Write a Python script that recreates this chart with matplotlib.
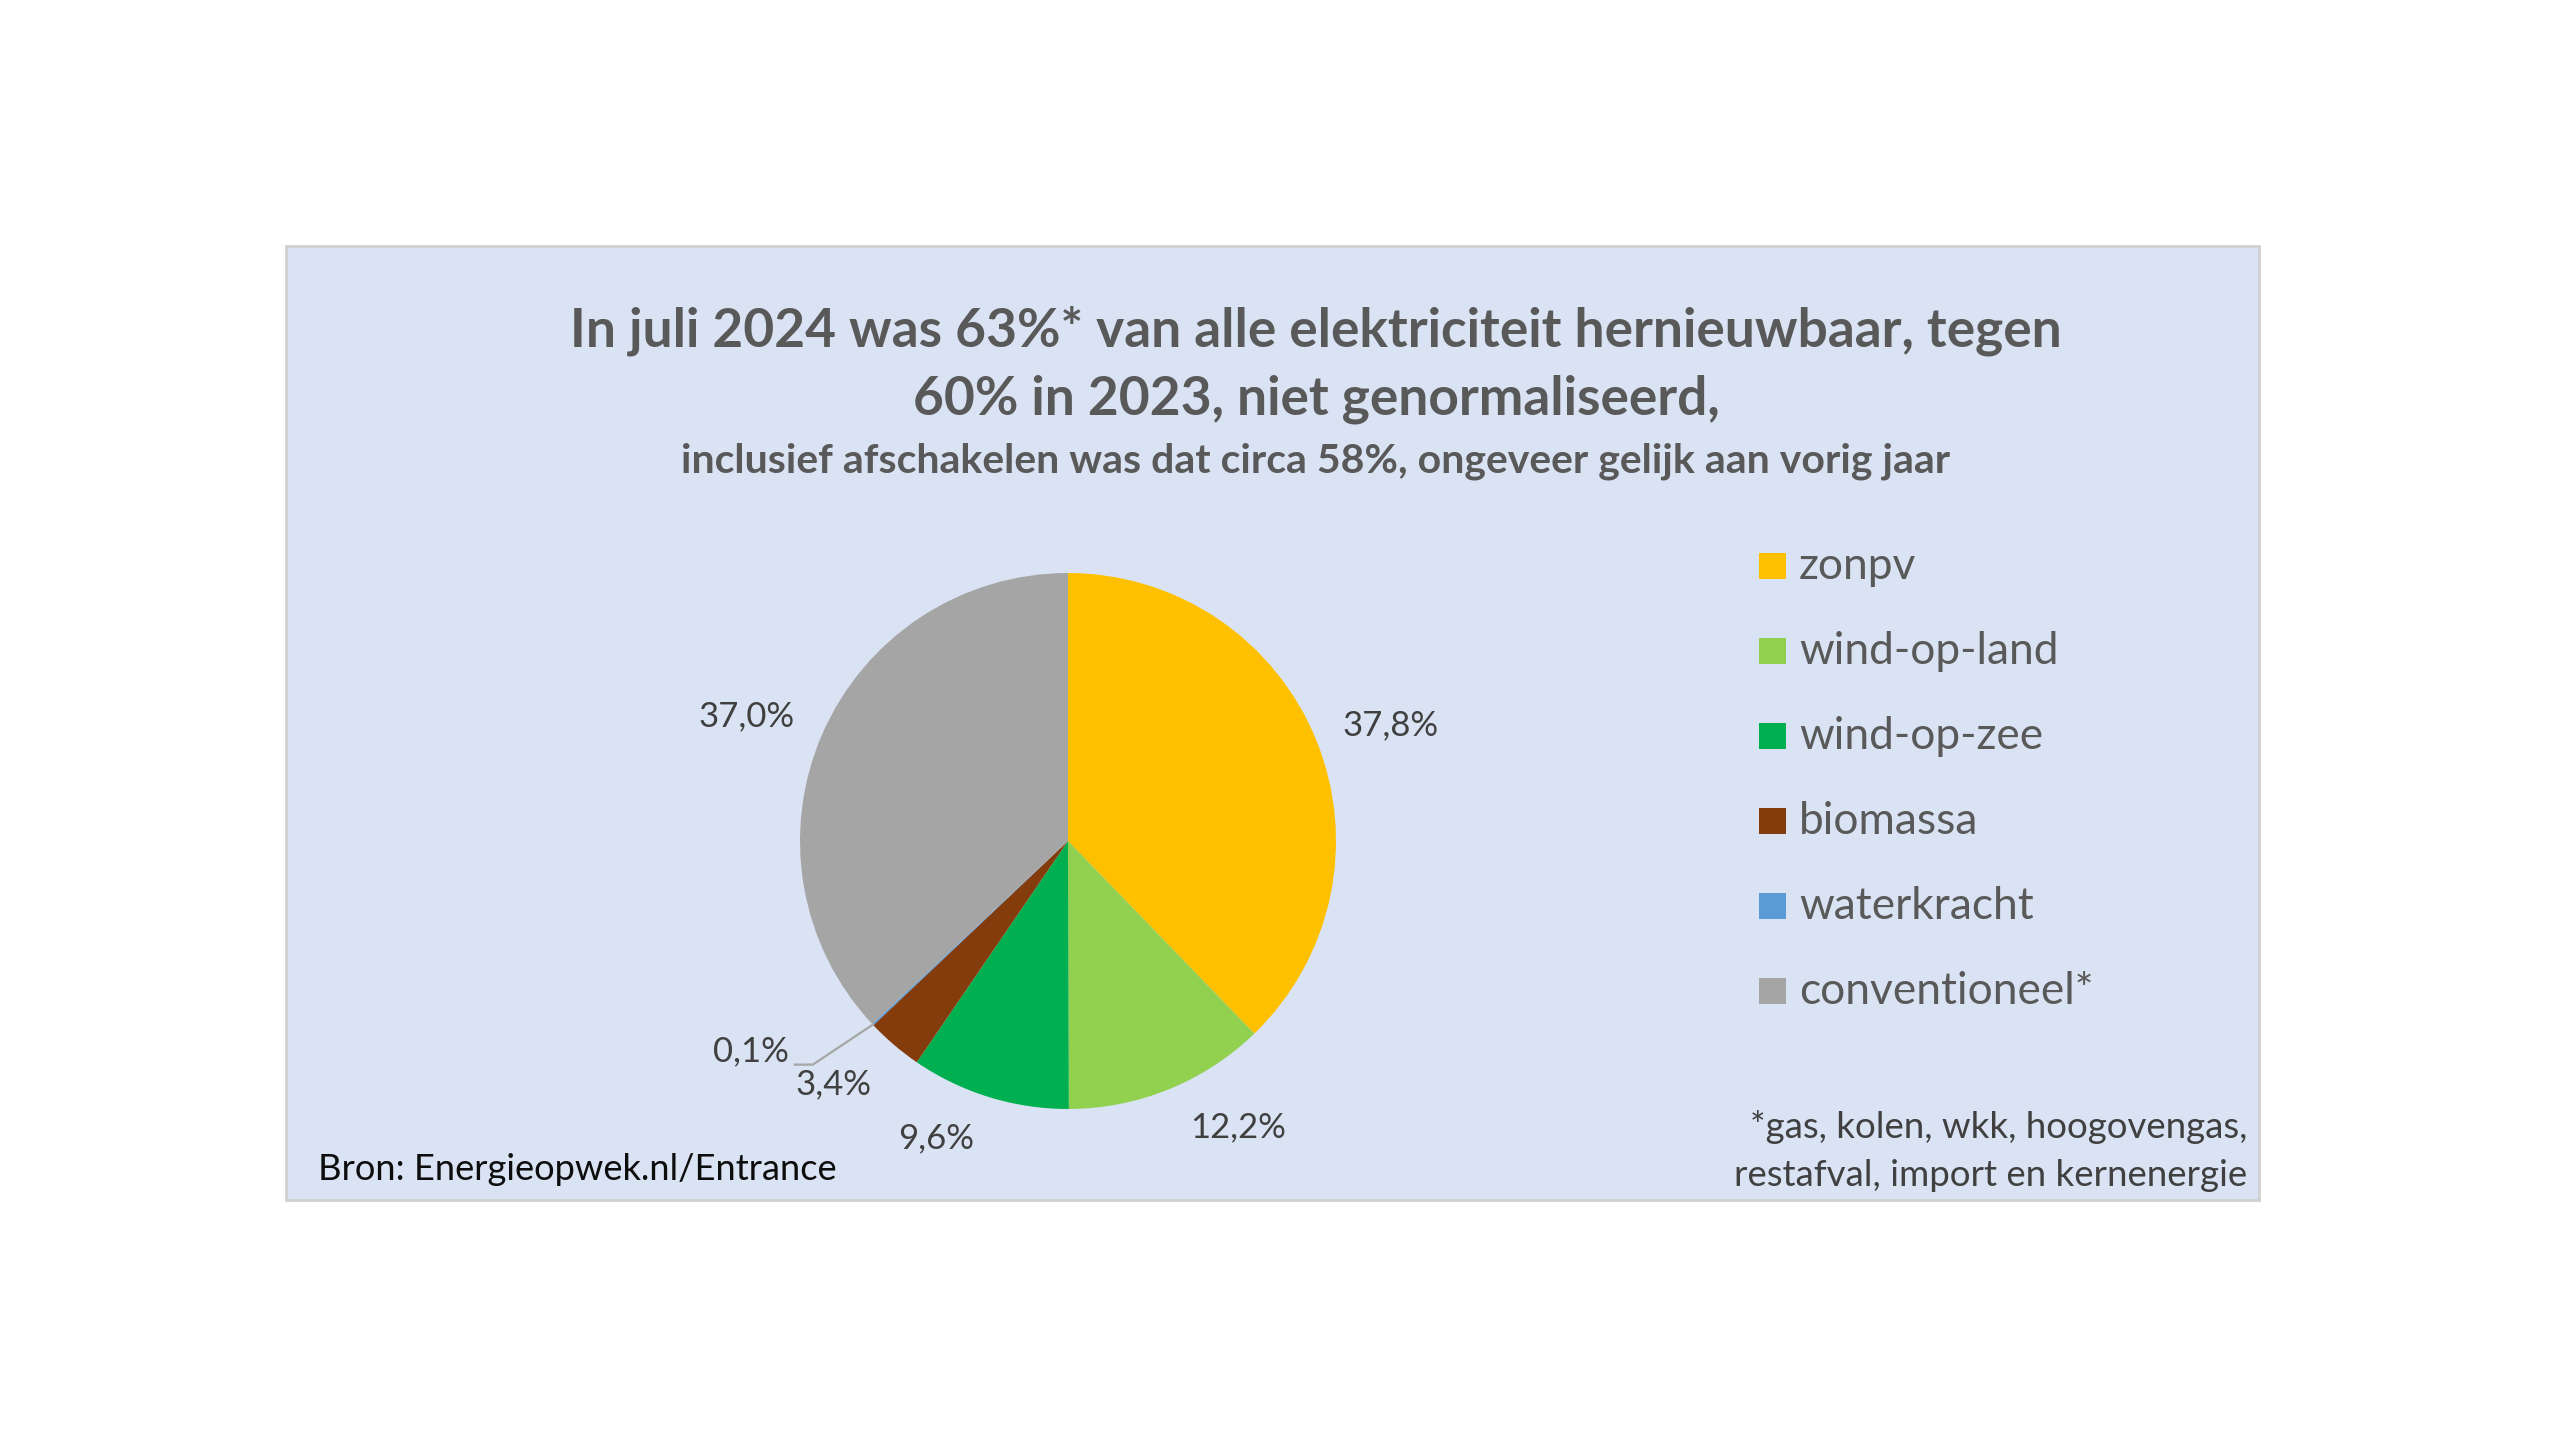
import matplotlib
matplotlib.use('Agg')
import matplotlib.pyplot as plt
from matplotlib.patches import Rectangle
import numpy as np

# ---------------- data ----------------
categories = ['zonpv', 'wind-op-land', 'wind-op-zee', 'biomassa', 'waterkracht', 'conventioneel*']
shares = [37.8, 12.2, 9.6, 3.4, 0.1, 37.0]
share_labels = ['37,8%', '12,2%', '9,6%', '3,4%', '0,1%', '37,0%']
colors = ['#FFC000', '#92D050', '#00B050', '#843C0C', '#5B9BD5', '#A5A5A5']
title_lines = ['In juli 2024 was 63%* van alle elektriciteit hernieuwbaar, tegen',
               '60% in 2023, niet genormaliseerd,']
subtitle = 'inclusief afschakelen was dat circa 58%, ongeveer gelijk aan vorig jaar'
footnote_lines = ['*gas, kolen, wkk, hoogovengas,', 'restafval, import en kernenergie']
source_text = 'Bron: Energieopwek.nl/Entrance'

# ---------------- style ----------------
W, H = 2560, 1436
FONT = ['Lato', 'DejaVu Sans']
plt.rcParams['font.family'] = FONT

fig = plt.figure(figsize=(W / 100, H / 100), dpi=100)
fig.patch.set_facecolor('white')
ax = fig.add_axes([0, 0, 1, 1])

def Y(y):  # convert from top-down pixel to axis coords
    return H - y

# pie
cx, cy, R = 1068, Y(841), 268
wedges, _ = ax.pie(shares, colors=colors, startangle=90, counterclock=False,
                   radius=R, center=(cx, cy), wedgeprops=dict(linewidth=0))
for w in wedges:
    w.set_zorder(3)

ax.set_xlim(0, W)
ax.set_ylim(0, H)
ax.set_aspect('auto')
ax.axis('off')

# panel
ax.add_patch(Rectangle((286, Y(1200)), 2259 - 286, 1200 - 246,
                       facecolor='#DAE3F3', edgecolor='#D0D0D0', lw=2, zorder=0))

renderer = fig.canvas.get_renderer()

def fit(t, target):
    w = t.get_window_extent(renderer).width
    t.set_fontsize(t.get_fontsize() * target / w)
    return t.get_fontsize()

# titles
t1 = ax.text(1316, Y(347), title_lines[0], ha='center', va='baseline',
             fontsize=40, fontweight='bold', color='#595959', zorder=5)
fs = fit(t1, 1490)
t2 = ax.text(1316, Y(415), title_lines[1], ha='center', va='baseline',
             fontsize=fs, fontweight='bold', color='#595959', zorder=5)
t3 = ax.text(1316, Y(473), subtitle, ha='center', va='baseline',
             fontsize=28, fontweight='bold', color='#595959', zorder=5)
fit(t3, 1266)

# percent labels
label_r = [343, 333, 325, 338, None, 345]
label_tweak = [-2.3, 8.5, -6.9, -3.5, 0, 2.3]
probe = ax.text(0, 0, '37,8%', fontsize=24)
lfs = fit(probe, 96)
probe.remove()
for i, w in enumerate(wedges):
    mid = np.deg2rad((w.theta1 + w.theta2) / 2)
    if label_r[i] is None:
        # small slice with leader line
        ex, ey = cx + R * np.cos(mid), cy + R * np.sin(mid)
        elx, ely = ex - 60, ey - 40
        endx = elx - 18
        ax.plot([ex, elx, endx], [ey, ely, ely], color='#A6A6A6', lw=1.6, zorder=4)
        ax.text(endx - 6, ely + 13, share_labels[i], ha='right', va='center',
                fontsize=lfs, color='#404040', zorder=5)
        continue
    a = mid + np.deg2rad(label_tweak[i])
    ax.text(cx + label_r[i] * np.cos(a), cy + label_r[i] * np.sin(a), share_labels[i],
            ha='center', va='center', fontsize=lfs, color='#404040', zorder=5)

# legend (manual)
probe = ax.text(0, 0, 'wind-op-land', fontsize=24)
gfs = fit(probe, 260)
probe.remove()
for i, (lab, col) in enumerate(zip(categories, colors)):
    bottom = 579 + 85 * i
    ax.add_patch(Rectangle((1759, Y(bottom)), 27, 26, facecolor=col, edgecolor='none', zorder=5))
    ax.text(1799, Y(bottom), lab, ha='left', va='baseline', fontsize=gfs,
            color='#595959', zorder=5)

# footnote
f1 = ax.text(2247, Y(1127), footnote_lines[0], ha='right', va='center',
             fontsize=20, color='#404040', zorder=5)
f2 = ax.text(2247, Y(1176), footnote_lines[1], ha='right', va='center',
             fontsize=20, color='#404040', zorder=5)
ffs = fit(f2, 516)
f1.set_fontsize(ffs)

# source
s = ax.text(318, Y(1169), source_text, ha='left', va='center', fontsize=20,
            color='#0D0D0D', zorder=5)
fit(s, 520)

fig.savefig('out.png', dpi=100, facecolor='white')
